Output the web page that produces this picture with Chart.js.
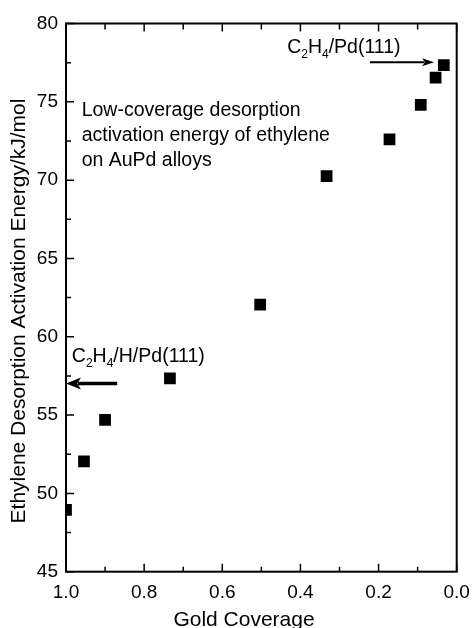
<!DOCTYPE html>
<html>
<head>
<meta charset="utf-8">
<script src="https://cdn.jsdelivr.net/npm/chart.js@4.4.1/dist/chart.umd.min.js"></script>
<style>
    body { margin: 0; background: #fff; }
    #wrap { width: 474px; height: 628px; }
</style>
</head>
<body>
<div id="wrap"><canvas id="energyChart" width="474" height="628"></canvas></div>
<script>
// Gold coverage (x) and desorption activation energy in kJ/mol (y)
const goldCoverage = [1.0, 0.954, 0.90, 0.734, 0.503, 0.333, 0.172, 0.092, 0.054, 0.033];
const activationEnergy = [48.95, 52.05, 54.7, 57.35, 62.05, 70.25, 72.6, 74.8, 76.55, 77.35];

const xTicks = [0.0, 0.2, 0.4, 0.6, 0.8, 1.0];
const xMinorTicks = [0.1, 0.3, 0.5, 0.7, 0.9];
const yTicks = [45, 50, 55, 60, 65, 70, 75, 80];
const yMinorTicks = [47.5, 52.5, 57.5, 62.5, 67.5, 72.5, 77.5];

const noteLines = ['Low-coverage desorption', 'activation energy of ethylene', 'on AuPd alloys'];
const xTitle = 'Gold Coverage';
const yTitle = 'Ethylene Desorption Activation Energy/kJ/mol';

const FONT = '"Liberation Sans", Arial, sans-serif';

// C2H4 style label with subscripts
function drawFormula(ctx, parts, x, y, size) {
    parts.forEach(function (p) {
        if (p.sub) {
            ctx.font = Math.round(size * 0.6) + 'px ' + FONT;
            ctx.fillText(p.t, x, y + 5);
        } else {
            ctx.font = size + 'px ' + FONT;
            ctx.fillText(p.t, x, y);
        }
        x += ctx.measureText(p.t).width;
    });
}

function drawArrow(ctx, x1, x2, y, lw, headLen, headHalf) {
    var dir = x2 > x1 ? 1 : -1;
    ctx.save();
    ctx.strokeStyle = '#000';
    ctx.fillStyle = '#000';
    ctx.lineWidth = lw;
    ctx.beginPath();
    ctx.moveTo(x1, y);
    ctx.lineTo(x2 - dir * headLen * 0.8, y);
    ctx.stroke();
    ctx.beginPath();
    ctx.moveTo(x2, y);
    ctx.lineTo(x2 - dir * headLen, y - headHalf);
    ctx.lineTo(x2 - dir * headLen * 0.75, y);
    ctx.lineTo(x2 - dir * headLen, y + headHalf);
    ctx.closePath();
    ctx.fill();
    ctx.restore();
}

const framePlugin = {
    id: 'frame',
    afterDatasetsDraw: function (chart) {
        const ctx = chart.ctx;
        const a = chart.chartArea;
        const xs = chart.scales.x;
        const ys = chart.scales.y;
        ctx.save();
        ctx.strokeStyle = '#000';
        ctx.lineWidth = 2;
        ctx.strokeRect(a.left, a.top, a.right - a.left, a.bottom - a.top);

        // inward ticks: bottom, top and left
        ctx.lineWidth = 1.5;
        ctx.beginPath();
        xTicks.concat(xMinorTicks).forEach(function (v) {
            var major = xTicks.indexOf(v) >= 0;
            var px = xs.getPixelForValue(v);
            ctx.moveTo(px, a.bottom);
            ctx.lineTo(px, a.bottom - (major ? 8 : 5));
            ctx.moveTo(px, a.top);
            ctx.lineTo(px, a.top + (major ? 8 : 6));
        });
        yTicks.concat(yMinorTicks).forEach(function (v) {
            var major = yTicks.indexOf(v) >= 0;
            var py = ys.getPixelForValue(v);
            ctx.moveTo(a.left, py);
            ctx.lineTo(a.left + (major ? 8 : 5), py);
        });
        ctx.stroke();

        // note text
        ctx.fillStyle = '#000';
        ctx.textAlign = 'left';
        ctx.textBaseline = 'alphabetic';
        ctx.font = '19.5px ' + FONT;
        var nx = xs.getPixelForValue(0.96);
        var ny = ys.getPixelForValue(74.1);
        noteLines.forEach(function (line, i) {
            ctx.fillText(line, nx, ny + i * 25);
        });

        // C2H4/Pd(111) with arrow
        drawFormula(ctx, [{ t: 'C' }, { t: '2', sub: true }, { t: 'H' }, { t: '4', sub: true }, { t: '/Pd(111)' }],
            xs.getPixelForValue(0.434), ys.getPixelForValue(78.1), 19.5);
        drawArrow(ctx, xs.getPixelForValue(0.222), xs.getPixelForValue(0.058), ys.getPixelForValue(77.52), 2, 12, 4);

        // C2H4/H/Pd(111) with arrow
        drawFormula(ctx, [{ t: 'C' }, { t: '2', sub: true }, { t: 'H' }, { t: '4', sub: true }, { t: '/H/Pd(111)' }],
            xs.getPixelForValue(0.985), ys.getPixelForValue(58.4), 19.5);
        drawArrow(ctx, xs.getPixelForValue(0.869), xs.getPixelForValue(1.0), ys.getPixelForValue(57.02), 3.5, 15, 6);

        // axis titles
        ctx.font = '21px ' + FONT;
        ctx.textAlign = 'center';
        ctx.fillText(xTitle, 244, 626);
        ctx.translate(25, 311);
        ctx.rotate(-Math.PI / 2);
        ctx.fillText(yTitle, 0, 0);
        ctx.restore();
    }
};

const ctx = document.getElementById('energyChart').getContext('2d');

new Chart(ctx, {
    type: 'scatter',
    data: {
        datasets: [{
            label: 'Ea',
            data: goldCoverage.map((x, i) => ({ x: x, y: activationEnergy[i] })),
            pointStyle: 'rect',
            pointRadius: 8.3,
            pointHoverRadius: 8.3,
            pointBorderWidth: 0,
            backgroundColor: '#000',
            borderColor: '#000',
            clip: 0
        }]
    },
    options: {
        responsive: false,
        animation: false,
        layout: { padding: { top: 23.5, right: 17.3, left: 0, bottom: 0 } },
        plugins: {
            legend: { display: false },
            tooltip: { enabled: false }
        },
        scales: {
            x: {
                type: 'linear',
                reverse: true,
                min: 0,
                max: 1,
                afterFit: function (s) { s.height = 56.3; },
                afterBuildTicks: function (s) { s.ticks = xTicks.map(v => ({ value: v })); },
                grid: { display: false, drawTicks: false },
                border: { display: false },
                ticks: {
                    padding: 10,
                    color: '#000',
                    font: { family: FONT, size: 19 },
                    maxRotation: 0,
                    callback: v => v.toFixed(1)
                }
            },
            y: {
                min: 45,
                max: 80,
                afterFit: function (s) { s.width = 66; },
                afterBuildTicks: function (s) { s.ticks = yTicks.map(v => ({ value: v })); },
                grid: { display: false, drawTicks: false },
                border: { display: false },
                ticks: {
                    padding: 8,
                    color: '#000',
                    font: { family: FONT, size: 19 },
                    callback: v => String(v)
                }
            }
        }
    },
    plugins: [framePlugin]
});
</script>
</body>
</html>
